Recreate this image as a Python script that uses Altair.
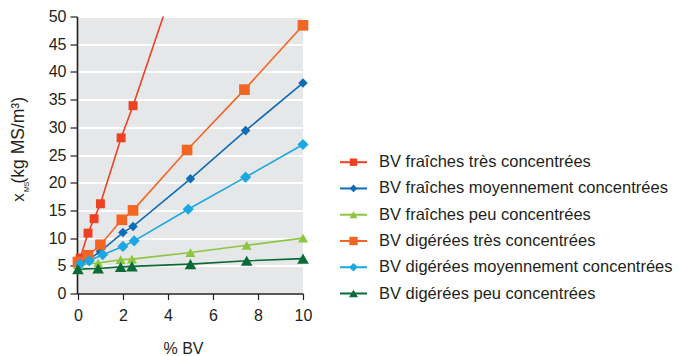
import altair as alt
import pandas as pd

series = [
    "BV fraîches très concentrées",
    "BV fraîches moyennement concentrées",
    "BV fraîches peu concentrées",
    "BV digérées très concentrées",
    "BV digérées moyennement concentrées",
    "BV digérées peu concentrées",
]
colors = ["#ee4023", "#0f6db6", "#8cc63e", "#f26522", "#1ba7e1", "#0a6b36"]
shapes = ["square", "diamond", "triangle-up", "square", "diamond", "triangle-up"]
sizes = [80, 135, 85, 80, 135, 85]

# values (% BV, kg MS/m3)
x_fr_tres = [0.1, 0.45, 0.72, 1.0, 1.92, 2.45, 5.0]
y_fr_tres = [6.4, 10.9, 13.5, 16.2, 28.1, 33.9, 64.5]
x_fr_moy = [0.0, 0.5, 1.0, 2.0, 2.45, 5.0, 7.45, 10.0]
y_fr_moy = [5.2, 6.2, 7.6, 11.0, 12.1, 20.7, 29.4, 38.0]
x_fr_peu = [0.0, 0.9, 1.9, 2.4, 5.0, 7.5, 10.0]
y_fr_peu = [5.2, 5.5, 6.1, 6.2, 7.4, 8.7, 10.0]
x_dg_tres = [0.0, 0.45, 1.0, 1.95, 2.45, 4.85, 7.4, 10.0]
y_dg_tres = [5.7, 6.9, 8.8, 13.3, 15.0, 25.9, 36.8, 48.4]
x_dg_moy = [0.1, 0.5, 1.1, 2.0, 2.5, 4.9, 7.45, 10.0]
y_dg_moy = [5.3, 5.9, 7.0, 8.5, 9.5, 15.2, 21.0, 26.9]
x_dg_peu = [0.0, 0.9, 1.9, 2.4, 5.0, 7.5, 10.0]
y_dg_peu = [4.4, 4.5, 4.8, 4.9, 5.3, 5.9, 6.3]

xs = [x_fr_tres, x_fr_moy, x_fr_peu, x_dg_tres, x_dg_moy, x_dg_peu]
ys = [y_fr_tres, y_fr_moy, y_fr_peu, y_dg_tres, y_dg_moy, y_dg_peu]

rows = []
for name, xv, yv in zip(series, xs, ys):
    for a, b in zip(xv, yv):
        rows.append({"series": name, "x": a, "y": b})
df = pd.DataFrame(rows)
leg = pd.DataFrame({"series": series, "idx": list(range(len(series)))})

TXT = "#231f20"
FONT = "Liberation Sans"

color = alt.Color("series:N", scale=alt.Scale(domain=series, range=colors), legend=None)
shape = alt.Shape("series:N", scale=alt.Scale(domain=series, range=shapes), legend=None)
size = alt.Size("series:N", scale=alt.Scale(domain=series, range=sizes), legend=None)

xenc = alt.X("x:Q", scale=alt.Scale(domain=[-0.04, 10], nice=False, zero=False),
             axis=alt.Axis(values=[0, 2, 4, 6, 8, 10], title="% BV", grid=False,
                           tickSize=6, labelPadding=8, zindex=1, labelFlush=False,
                           titleX=106, titleY=60, titleBaseline="alphabetic",
                           titleAnchor="start", titleAlign="center"))
yenc = alt.Y("y:Q", scale=alt.Scale(domain=[0, 50], nice=False),
             axis=alt.Axis(values=list(range(0, 51, 5)), title=None, grid=True,
                           gridColor="white", gridWidth=2, gridOpacity=1,
                           tickSize=7, labelPadding=4, labelFlush=False))

lines = alt.Chart(df).mark_line(strokeWidth=1.6, clip=True).encode(
    x=xenc, y=yenc, color=color, detail="series:N"
)
pts = alt.Chart(df).transform_filter("datum.y <= 50").mark_point(
    filled=True, opacity=1
).encode(x=xenc, y=yenc, color=color, shape=shape, size=size)

main = alt.layer(lines, pts)

ly = alt.Y("idx:Q", scale=alt.Scale(domain=[0, 5], range=[145.7, 277], nice=False, zero=False), axis=None)
leg_rule = alt.Chart(leg).mark_rule(strokeWidth=2).encode(
    x=alt.value(263), x2=alt.value(290), y=ly, color=color
)
leg_pts = alt.Chart(leg).mark_point(filled=True, opacity=1).encode(
    x=alt.value(276.5), y=ly, color=color, shape=shape,
    size=alt.Size("series:N", scale=alt.Scale(domain=series, range=[55, 80, 55, 55, 80, 55]), legend=None),
)
leg_txt = alt.Chart(leg).mark_text(
    align="left", baseline="middle", fontSize=16.5, font=FONT, color=TXT
).encode(x=alt.value(302), y=ly, text="series:N")
legend = alt.layer(leg_rule, leg_pts, leg_txt).resolve_scale(size="independent")

tdf = pd.DataFrame({"t": ["x"]})
t_x = alt.Chart(tdf).mark_text(angle=270, align="left", baseline="alphabetic",
                               fontSize=17, font=FONT, color=TXT, text="x").encode(
    x=alt.value(-53.5), y=alt.value(185.2))
t_ms = alt.Chart(tdf).mark_text(angle=270, align="left", baseline="alphabetic",
                                fontSize=7, font=FONT, color=TXT, text="MS").encode(
    x=alt.value(-48), y=alt.value(175.5))
t_rest = alt.Chart(tdf).mark_text(angle=270, align="left", baseline="alphabetic",
                                  fontSize=17.5, font=FONT, color=TXT, text="(kg MS/m³)").encode(
    x=alt.value(-53.5), y=alt.value(167))
titles = alt.layer(t_x, t_ms, t_rest)

chart = alt.layer(main, legend, titles).resolve_scale(y="independent", size="independent").properties(
    width=226, height=277,
    autosize=alt.AutoSizeParams(type="none"),
    padding={"left": 69, "top": 8.5, "right": 372, "bottom": 62},
).configure_view(fill="#e6e7e8", stroke=None).configure_axis(
    domainColor=TXT, domainWidth=1.6, tickColor=TXT, tickWidth=1.2,
    labelColor=TXT, labelFont=FONT, labelFontSize=16,
    titleColor=TXT, titleFont=FONT, titleFontSize=16, titleFontWeight="normal",
)

chart.save("out.html", embed_options={"renderer": "svg", "actions": False})
